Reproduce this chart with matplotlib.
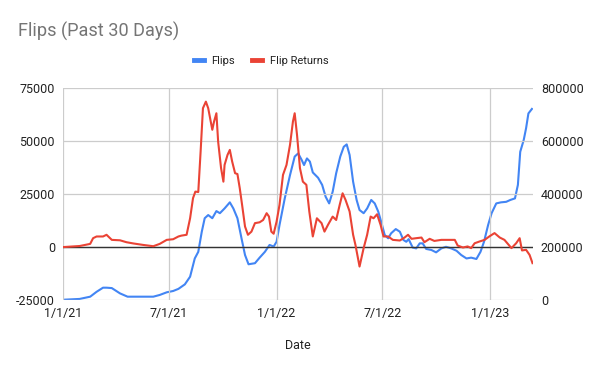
import matplotlib
matplotlib.use("Agg")
import matplotlib.pyplot as plt
import pandas as pd
from matplotlib.lines import Line2D

START = "2021-01-01"

# Flip Returns (left axis): day offset from 2021-01-01, value
returns_days = [0, 28, 37, 46, 51, 57, 68, 74, 83, 97, 108, 120, 137, 154, 165, 177, 188, 197,
                202, 211, 217, 222, 226, 231, 235, 239, 244, 248, 255, 258, 262, 265, 270, 274,
                276, 281, 285, 289, 294, 298, 302, 306, 311, 316, 322, 328, 336, 342, 348, 352,
                356, 360, 365, 370, 376, 382, 388, 393, 396, 400, 405, 410, 416, 421, 427, 434,
                442, 447, 453, 461, 467, 473, 478, 483, 490, 496, 500, 507, 514, 520, 526, 531,
                537, 543, 548, 556, 564, 576, 584, 590, 596, 604, 613, 618, 627, 635, 647, 658,
                670, 675, 684, 692, 698, 704, 712, 721, 729, 738, 747, 755, 767, 775, 781, 785,
                792, 798, 803]
returns_vals = [0, 500, 1000, 1500, 4200, 5000, 5000, 5800, 3400, 3200, 2300, 1700, 1000, 400, 1500,
                3400, 3700, 5000, 5400, 5800, 13600, 23100, 26200, 26000, 45100, 65600, 68700,
                65600, 55400, 59300, 63200, 49800, 37300, 30900, 38800, 43500, 45900, 40400, 34900,
                34500, 27800, 19900, 9700, 5800, 7300, 11300, 11700, 12800, 16000, 14400, 7300,
                6300, 12000, 19900, 34100, 38800, 48300, 59300, 63200, 53000, 37300, 30900, 29400,
                16800, 5000, 13600, 11300, 7300, 10500, 14400, 12800, 19900, 25400, 22300, 16800,
                5800, 1000, -9200, -500, 5800, 14400, 13600, 15500, 10500, 5000, 5000, 3400, 3100,
                4500, 5800, 3900, 4200, 4500, 2300, 3900, 2900, 3400, 3400, 3400, 700, -200, 300,
                -500, 1800, 2600, 3400, 5000, 6600, 4500, 3400, -500, 1800, 4200, -1600, -1300,
                -3700, -7600]

# Flips (right axis)
flips_days = [0, 28, 46, 57, 68, 74, 83, 97, 110, 120, 137, 154, 165, 177, 188, 197, 208, 217,
              225, 231, 237, 242, 248, 255, 262, 268, 276, 285, 291, 298, 305, 311, 317, 328,
              336, 345, 353, 360, 365, 370, 379, 388, 396, 402, 408, 412, 417, 422, 427, 436,
              443, 449, 455, 461, 467, 474, 480, 485, 490, 496, 502, 507, 514, 520, 527, 533,
              539, 544, 550, 556, 561, 569, 576, 582, 587, 591, 598, 604, 610, 615, 621, 630,
              638, 647, 655, 664, 673, 681, 690, 698, 707, 714, 720, 727, 733, 741, 749, 758,
              765, 773, 778, 782, 788, 792, 796, 802]
flips_vals = [1000, 4000, 12500, 31000, 46500, 46500, 45000, 25000, 12500, 12500, 12500, 12500,
              19000, 29000, 34000, 42000, 59000, 88000, 157000, 182000, 258000, 309000, 321000,
              309000, 336000, 328000, 346000, 369000, 346000, 309000, 233000, 170000, 135000,
              139000, 160000, 182000, 208000, 202000, 220000, 283000, 384000, 472000, 542000,
              554000, 529000, 510000, 535000, 523000, 482000, 462000, 435000, 390000, 365000,
              409000, 479000, 542000, 579000, 588000, 548000, 447000, 378000, 340000, 328000,
              346000, 378000, 365000, 334000, 296000, 246000, 233000, 252000, 268000, 258000,
              227000, 220000, 230000, 198000, 195000, 214000, 214000, 193000, 189000, 180000,
              195000, 201000, 195000, 186000, 170000, 157000, 160000, 155000, 182000, 220000,
              283000, 328000, 365000, 369000, 371000, 378000, 384000, 435000, 560000, 605000,
              649000, 705000, 722000]

series_names = ["Flips", "Flip Returns"]
left_ticks = [-25000, 0, 25000, 50000, 75000]
right_ticks = [0, 200000, 400000, 600000, 800000]
x_tick_dates = ["2021-01-01", "2021-07-01", "2022-01-01", "2022-07-01", "2023-01-01"]
x_tick_labels = ["1/1/21", "7/1/21", "1/1/22", "7/1/22", "1/1/23"]

start = pd.Timestamp(START)
r_dates = start + pd.to_timedelta(returns_days, unit="D")
f_dates = start + pd.to_timedelta(flips_days, unit="D")

plt.rcParams['font.family'] = ['Roboto', 'DejaVu Sans']
BLUE = "#4285F4"
RED = "#EA4335"
TXT = "#222222"

fig = plt.figure(figsize=(6, 3.71), dpi=100)
ax = fig.add_axes([0.1055, 0.1914, 0.782, 0.5706])
ax2 = ax.twinx()
ax.set_zorder(ax2.get_zorder() + 1)
ax.patch.set_visible(False)

ax2.plot(f_dates, flips_vals, color=BLUE, lw=1.5, solid_joinstyle="round")
ax.plot(r_dates, returns_vals, color=RED, lw=1.5, solid_joinstyle="round")

ax.set_ylim(-25000, 75000)
ax2.set_ylim(0, 800000)
ax.set_yticks(left_ticks)
ax.set_yticklabels([str(v) for v in left_ticks])
ax2.set_yticks(right_ticks)
ax2.set_yticklabels([str(v) for v in right_ticks])

ax.set_xlim(start, start + pd.Timedelta(days=803))
ax.set_xticks(pd.to_datetime(x_tick_dates))
ax.set_xticklabels(x_tick_labels)

for a in (ax, ax2):
    for s in a.spines.values():
        s.set_visible(False)
    a.tick_params(length=0, labelsize=9, labelcolor=TXT)
ax.tick_params(axis="y", pad=6)
ax2.tick_params(axis="y", pad=6)
ax.tick_params(axis="x", pad=5)

ax2.grid(False)
ax.grid(True, color="#cccccc", lw=0.9)
ax.set_axisbelow(True)
ax.axhline(0, color="#333333", lw=1.0, zorder=1.5)

ax.set_xlabel("Date", fontsize=9, color=TXT, labelpad=14)

fig.text(0.03, 0.915, "Flips (Past 30 Days)", fontsize=13.1, color="#757575", va="center", ha="left")

handles = [Line2D([0], [0], color=BLUE, lw=3.5), Line2D([0], [0], color=RED, lw=3.5)]
fig.legend(handles, series_names, loc="center", bbox_to_anchor=(0.435, 0.835), ncol=2,
           frameon=False, fontsize=8, handlelength=0.9, handletextpad=0.7, columnspacing=1.5,
           labelcolor=TXT)

fig.savefig("out.png", dpi=100)
